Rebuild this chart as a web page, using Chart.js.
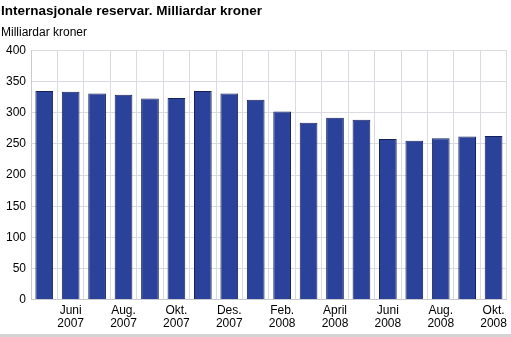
<!DOCTYPE html>
<html>
<head>
<meta charset="utf-8">
<script src="https://cdn.jsdelivr.net/npm/chart.js@4/dist/chart.umd.min.js"></script>
<style>
  html, body { margin: 0; padding: 0; background: #fff; }
  #wrap { position: relative; width: 511px; height: 334px; }
  #foot { width: 511px; height: 3px; background: #d4d4d4; }
</style>
</head>
<body>
<div id="wrap"><canvas id="reserveChart"></canvas></div>
<div id="foot"></div>
<script>
// Monthly series, May 2007 - October 2008
const months = [
  ["Mai", "2007"], ["Juni", "2007"], ["Juli", "2007"], ["Aug.", "2007"],
  ["Sep.", "2007"], ["Okt.", "2007"], ["Nov.", "2007"], ["Des.", "2007"],
  ["Jan.", "2008"], ["Feb.", "2008"], ["Mars", "2008"], ["April", "2008"],
  ["Mai", "2008"], ["Juni", "2008"], ["Juli", "2008"], ["Aug.", "2008"],
  ["Sep.", "2008"], ["Okt.", "2008"]
];
const reserves = [335, 334, 331, 329, 323, 324, 335, 331, 321, 302, 284, 292, 289, 258, 255, 259, 262, 263];
const yTicks = [0, 50, 100, 150, 200, 250, 300, 350, 400];

const font = "'Liberation Sans', Arial, sans-serif";
Chart.defaults.font.family = font;
Chart.defaults.color = "#000";

const ctx = document.getElementById("reserveChart");
new Chart(ctx, {
  type: "bar",
  data: {
    labels: months,
    datasets: [{
      label: "Milliardar kroner",
      data: reserves,
      backgroundColor: "#2a4299",
      borderColor: "#16215c",
      borderWidth: 1,
      borderSkipped: "bottom",
      barPercentage: 0.67,
      categoryPercentage: 1.0
    }]
  },
  options: {
    responsive: true,
    maintainAspectRatio: false,
    animation: false,
    layout: { padding: { left: 1, right: 2, top: 3, bottom: 0 } },
    plugins: {
      legend: { display: false },
      tooltip: { enabled: false },
      title: {
        display: true,
        text: "Internasjonale reservar. Milliardar kroner",
        align: "start",
        font: { size: 13.5, weight: "bold" },
        padding: { top: 0, bottom: 6 }
      },
      subtitle: {
        display: true,
        text: "Milliardar kroner",
        align: "start",
        font: { size: 12 },
        padding: { top: 0, bottom: 11 }
      }
    },
    scales: {
      x: {
        grid: { color: "#dadbe1", drawTicks: false, offset: true },
        border: { color: "#c9c9cf" },
        ticks: {
          autoSkip: false,
          maxRotation: 0,
          padding: 4,
          font: { size: 12, lineHeight: 1.1 },
          callback: function(value, index) {
            return index % 2 === 1 ? months[index] : "";
          }
        }
      },
      y: {
        min: 0,
        max: 400,
        afterBuildTicks: function(axis) {
          axis.ticks = yTicks.map(v => ({ value: v }));
        },
        grid: { color: "#dadbe1", drawTicks: false },
        border: { color: "#c9c9cf" },
        ticks: { padding: 5, font: { size: 12 } }
      }
    }
  }
});
</script>
</body>
</html>
